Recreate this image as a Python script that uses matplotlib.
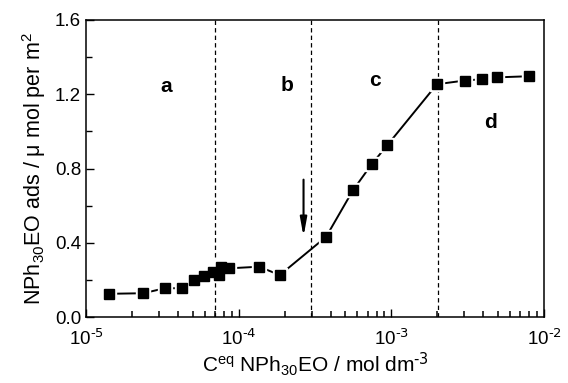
import matplotlib
matplotlib.use("Agg")
import matplotlib.pyplot as plt
from matplotlib.ticker import FixedLocator, NullFormatter
import numpy as np

plt.rcParams['font.family'] = ['Liberation Sans', 'DejaVu Sans']
plt.rcParams['mathtext.fontset'] = 'custom'
plt.rcParams['mathtext.rm'] = 'Liberation Sans'
plt.rcParams['mathtext.it'] = 'Liberation Sans:italic'
plt.rcParams['mathtext.bf'] = 'Liberation Sans:bold'

# data
conc = [1.41e-5, 2.37e-5, 3.29e-5, 4.25e-5, 5.06e-5, 5.93e-5, 6.79e-5, 7.41e-5,
        7.69e-5, 8.59e-5, 1.36e-4, 1.86e-4, 3.74e-4, 5.61e-4, 7.45e-4, 9.42e-4,
        1.99e-3, 3.03e-3, 3.91e-3, 4.94e-3, 7.94e-3]
ads = [0.125, 0.128, 0.155, 0.155, 0.200, 0.223, 0.241, 0.226,
       0.271, 0.262, 0.271, 0.226, 0.432, 0.683, 0.824, 0.926,
       1.254, 1.274, 1.281, 1.291, 1.297]
boundaries = [7.0e-5, 2.97e-4, 2.03e-3]
region_labels = ['a', 'b', 'c', 'd']
region_x = [3.37e-5, 2.07e-4, 7.8e-4, 4.46e-3]
region_y = [1.24, 1.249, 1.275, 1.047]
arrow_x = 2.66e-4
arrow_y = [0.74, 0.433]
yticks = [0.0, 0.4, 0.8, 1.2, 1.6]
ytick_labels = ['0.0', '0.4', '0.8', '1.2', '1.6']
xticks = [1e-5, 1e-4, 1e-3, 1e-2]
xtick_labels = [r'$10^{\mathsf{‐5}}$', r'$10^{\mathsf{‐4}}$', r'$10^{\mathsf{‐3}}$', r'$10^{\mathsf{‐2}}$']

fig = plt.figure(figsize=(5.68, 3.83), dpi=100)
ax = fig.add_axes([86/568, 1-317/383, (544-86)/568, (317-20)/383])

ax.plot(conc, ads, color='black', lw=1.4, zorder=2)
ax.plot(conc, ads, ls='none', marker='s', ms=10.5, mfc='white', mec='white', zorder=3)
ax.plot(conc, ads, ls='none', marker='s', ms=6.5, mfc='black', mec='black', zorder=4)

for b in boundaries:
    ax.axvline(b, color='black', lw=0.9, ls=(0, (3.5, 2.5)), zorder=1)

for lab, x, y in zip(region_labels, region_x, region_y):
    ax.text(x, y, lab, fontsize=15, fontweight='bold', ha='center', va='center')

ax.annotate('', xy=(arrow_x, arrow_y[1]), xytext=(arrow_x, arrow_y[0]),
            arrowprops=dict(arrowstyle='-|>,head_length=1.1,head_width=0.2',
                            color='black', lw=1.5, shrinkA=0, shrinkB=0))

ax.set_xscale('log')
ax.set_xlim(1e-5, 1e-2)
ax.set_ylim(0, 1.6)
ax.set_yticks(yticks)
ax.set_yticklabels(ytick_labels)
ax.set_yticks(np.arange(0.2, 1.6, 0.4), minor=True)
ax.set_xticks(xticks)
ax.set_xticklabels(xtick_labels)
minor_x = [m * 10.0 ** e for e in (-5, -4, -3) for m in range(2, 10)]
ax.xaxis.set_minor_locator(FixedLocator(minor_x))
ax.xaxis.set_minor_formatter(NullFormatter())

ax.tick_params(which='both', direction='in', top=False, right=False, labelsize=13.5)
ax.tick_params(which='major', length=6, width=1)
ax.tick_params(which='minor', length=4, width=1)
ax.tick_params(axis='x', which='major', pad=8)
ax.tick_params(axis='x', which='minor', length=4, width=1.1, bottom=True)
for s in ax.spines.values():
    s.set_linewidth(1.1)

ax.set_xlabel(r'C$^{\rm eq}$ NPh$_{30}$EO / mol dm$^{\mathsf{‐3}}$', fontsize=15, labelpad=1)
ax.set_ylabel(r'NPh$_{30}$EO ads / μ mol per m$^{2}$', fontsize=15.5, labelpad=5)

fig.savefig('out.png', dpi=100)
